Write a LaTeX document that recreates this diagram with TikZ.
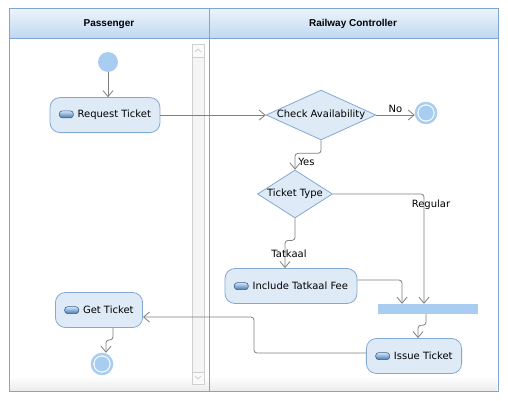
\documentclass[tikz,border=0pt]{standalone}
\usepackage{fontspec}
\setmainfont{DejaVu Sans}
\newfontfamily\headfont{Liberation Sans}
\usetikzlibrary{positioning,arrows.meta,shapes.geometric,calc}

\definecolor{framec}{HTML}{7EA6D1}
\definecolor{headtop}{HTML}{EBF4FC}
\definecolor{headbot}{HTML}{C0D8F0}
\definecolor{boxfill}{HTML}{DEEAF6}
\definecolor{boxline}{HTML}{82A9D3}
\definecolor{dotblue}{HTML}{A9CDF0}
\definecolor{flowgray}{HTML}{7F7F7F}
\definecolor{scrollc}{HTML}{CFCFCF}
\definecolor{icontop}{HTML}{D2E4F6}
\definecolor{iconbot}{HTML}{4479B0}
\definecolor{iconline}{HTML}{36608E}

\newcommand{\actionicon}{\tikz[baseline=0pt]\shade[top color=icontop, bottom color=iconbot, draw=iconline, rounded corners=3pt, line width=0.6pt] (0pt,0pt) rectangle (14pt,7pt);}

\begin{document}
\begin{tikzpicture}[x=1pt, y=-1pt, font=\fontsize{10}{12}\selectfont,
    action/.style={draw=boxline, fill=boxfill, rounded corners=10pt, minimum height=35pt, inner xsep=9pt, line width=0.8pt},
    decision/.style={draw=boxline, fill=boxfill, diamond, inner sep=0pt, line width=0.8pt},
    startdot/.style={circle, fill=dotblue, minimum size=20pt, inner sep=0pt},
    enddot/.style={circle, draw=dotblue, line width=2.5pt, fill=white, minimum size=20pt, inner sep=0pt,
      path picture={\fill[dotblue] (path picture bounding box.center) circle (7.5pt);}},
    forkbar/.style={fill=dotblue, minimum width=100pt, minimum height=10pt, inner sep=0pt},
    flow/.style={draw=flowgray, line width=0.8pt, rounded corners=3pt, -{Straight Barb[length=6pt,width=10pt]}},
    lane/.style={font=\headfont\fontsize{10}{12}\selectfont\bfseries}
    ]
    \useasboundingbox (0,0) rectangle (508,401);
    \shade[top color=white, bottom color=black!7] (10,376) rectangle (497,390);
    \shade[top color=headtop, bottom color=headbot] (9,9) rectangle (498,38);
    \draw[framec, line width=1pt] (9,9) rectangle (498,391);
    \draw[framec, line width=0.8pt] (209,9) -- (209,391);
    \draw[framec, line width=0.8pt] (9,38) -- (498,38);
    \node[lane] (passenger) at (109,24) {Passenger};
    \node[lane] (controller) at (353,24) {Railway Controller};

    \draw[scrollc, fill=black!4] (192,44) rectangle (204,384);
    \draw[scrollc, fill=black!2] (192,44) rectangle (204,57);
    \draw[scrollc, fill=black!2] (192,372) rectangle (204,384);
    \draw[scrollc, line width=0.8pt] (195,52) -- (198,49) -- (201,52);
    \draw[scrollc, line width=0.8pt] (195,376) -- (198,379) -- (201,376);

    \node[startdot] (start) at (108,62) {};
    \node[action, below=25pt of start, xshift=-3pt] (request) {\actionicon\hspace{4pt}Request Ticket};
    \node[decision, shape aspect=2.2] (check) at (321,115) {Check Availability};
    \node[enddot] (endno) at (426,113) {};
    \node[decision, shape aspect=1.6, minimum width=75pt, minimum height=48pt] (ttype) at (295,194) {Ticket Type};
    \node[action] (fee) at (291,286) {\actionicon\hspace{4pt}Include Tatkaal Fee};
    \node[forkbar] (fork) at (428,309) {};
    \node[action] (issue) at (414,356) {\actionicon\hspace{4pt}Issue Ticket};
    \node[action] (get) at (99,310) {\actionicon\hspace{4pt}Get Ticket};
    \node[enddot] (endpass) at (102,364) {};

    \draw[flow] (start) -- (start |- request.north);
    \draw[flow] (request.east) -- (request.east -| check.west);
    \draw[flow] (check.east) -- node[above, inner sep=2pt] (nolabel) {No} (check.east -| endno.west);
    \draw[flow] (check.south) -- ++(0,13) -| node[pos=0.75, right, inner sep=3pt] (yeslabel) {Yes} (ttype.north);
    \draw[flow] (ttype.east) -| node[pos=0.55, xshift=7pt] (reglabel) {Regular} ([xshift=-4pt]fork.north);
    \draw[flow] (ttype.south) -- ++(0,22) -| node[pos=0.75, xshift=4pt] (tatlabel) {Tatkaal} ([xshift=-6pt]fee.north);
    \draw[flow] ([yshift=6pt]fee.east) -| ([xshift=-26pt]fork.north);
    \draw[flow] ([xshift=-2pt]fork.south) -- ++(0,11) -| ([xshift=4pt]issue.north);
    \draw[flow] ([yshift=3pt]issue.west) -- ++(-112,0) |- ([yshift=-7pt]get.east);
    \draw[flow] ([xshift=14pt]get.south) -- ++(0,12) -| ([xshift=4pt]endpass.north);
\end{tikzpicture}
\end{document}
